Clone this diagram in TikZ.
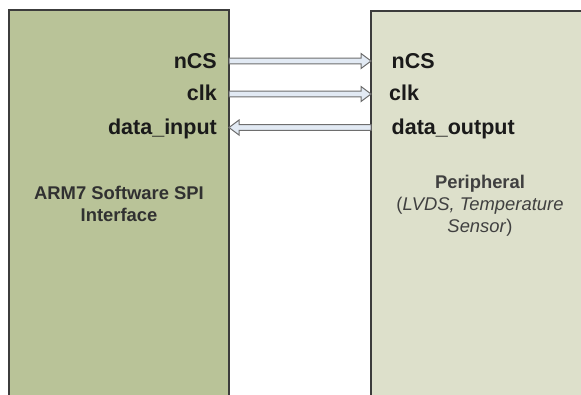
\documentclass[tikz,border=0pt]{standalone}
\usepackage{fontspec}
\setmainfont{Liberation Sans}
\usetikzlibrary{calc}
\definecolor{armfill}{HTML}{B9C398}
\definecolor{perfill}{HTML}{DDE0CB}
\definecolor{boxline}{HTML}{3C3C3C}
\definecolor{arrline}{HTML}{6E6E6E}
\definecolor{arrfill}{HTML}{E2EAF4}
\definecolor{txt}{HTML}{1A1A1A}
\definecolor{subtxt}{HTML}{404040}
\tikzset{
  block/.style={draw=boxline, line width=1.4pt, rectangle, inner sep=0pt, outer sep=0pt, anchor=north west},
  signal/.style={font=\bfseries\fontsize{21.5}{25}\selectfont, text=txt, inner sep=0pt},
  caption/.style={font=\fontsize{18.4}{22}\selectfont, text=subtxt, align=center, inner sep=0pt, anchor=base},
  % hollow block arrow: shaft half-width 2.8pt, head half-width 7.5pt, head length 10pt
  blockarrow/.style={draw=arrline, fill=arrfill, line width=1pt, line join=miter,
    to path={
      ($(\tikztostart)!2.8pt!90:(\tikztotarget)$)
      -- ($(\tikztotarget)!10pt!(\tikztostart)!2.8pt!90:(\tikztotarget)$)
      -- ($(\tikztotarget)!10pt!(\tikztostart)!7.5pt!90:(\tikztotarget)$)
      -- (\tikztotarget)
      -- ($(\tikztotarget)!10pt!(\tikztostart)!7.5pt!-90:(\tikztotarget)$)
      -- ($(\tikztotarget)!10pt!(\tikztostart)!2.8pt!-90:(\tikztotarget)$)
      -- ($(\tikztostart)!2.8pt!-90:(\tikztotarget)$) -- cycle}}
}
\begin{document}
\begin{tikzpicture}[x=1pt, y=-1pt]
  \useasboundingbox (0,0) rectangle (581,394);
  \clip (0,0) rectangle (581,394);

  % the two blocks run past the bottom and right edges
  \node[block, fill=armfill, minimum width=220pt, minimum height=420pt] (arm) at (9,10) {};
  \node[block, fill=perfill, minimum width=219pt, minimum height=420pt] (per) at (371,11) {};

  % signal rows
  \coordinate (r1) at (0,61);
  \coordinate (r2) at (0,94);
  \coordinate (r3) at (0,127.5);

  % connections between the blocks
  \draw[blockarrow] (arm.east |- r1) to (per.west |- r1);
  \draw[blockarrow] (arm.east |- r2) to (per.west |- r2);
  \draw[blockarrow] (per.west |- r3) to (arm.east |- r3);

  % signal names, master side
  \node[signal, anchor=base east] (ncsm) at (217,68) {nCS};
  \node[signal, anchor=base east] (clkm) at (217,100.5) {clk};
  \node[signal, anchor=base east] (dim)  at (217,134.5) {data\_input};

  % signal names, peripheral side
  \node[signal, anchor=base west] (ncsp) at (391.5,68) {nCS};
  \node[signal, anchor=base west] (clkp) at (389,100.5) {clk};
  \node[signal, anchor=base west] (dop)  at (391.5,134.5) {data\_output};

  % block captions (base anchor sits on the last line)
  \node[caption, font=\bfseries\fontsize{18.4}{22}\selectfont, text=txt!90] (armcap) at (119,221)
    {ARM7 Software SPI\\Interface};
  \node[caption] (percap) at (480,232)
    {\textbf{Peripheral}\\(\textit{LVDS, Temperature}\\\textit{Sensor})};
\end{tikzpicture}
\end{document}
